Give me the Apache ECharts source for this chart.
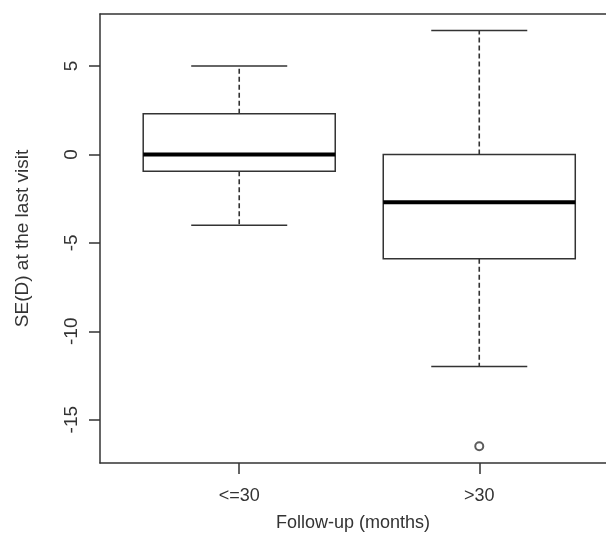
<!DOCTYPE html>
<html>
<head>
<meta charset="utf-8">
<title>SE(D) boxplot</title>
<script src="https://cdn.jsdelivr.net/npm/echarts@6/dist/echarts.min.js"></script>
<style>
html, body {
	margin: 0;
	padding: 0;
	background: #fff;
}
#chart {
	width: 606px;
	height: 533px;
}
</style>
</head>
<body>
<div id="chart"></div>
<script type="text/javascript">
// groups on the x axis
var categories = ['<=30', '>30'];
// min, Q1, median, Q3, max (whisker ends) per group
var boxStats = [
    [-4, -0.95, 0, 2.3, 5],
    [-12, -5.9, -2.7, 0, 7]
];
// outliers: [group number (1-based), value]
var outliers = [[2, -16.5]];
var yTicks = [5, 0, -5, -10, -15];

var FONT = '"Liberation Sans", Arial, sans-serif';
var INK = '#333';

var chart = echarts.init(document.getElementById('chart'), null, {renderer: 'canvas'});

var boxData = boxStats.map(function (s, i) { return [i + 1].concat(s); });

function renderBox(params, api) {
    var x = api.value(0);
    var half = api.size([0.4, 0])[0];   // box width 0.8 units
    var cap = api.size([0.2, 0])[0];    // whisker caps 0.4 units
    var cx = api.coord([x, 0])[0];
    var yMin = api.coord([x, api.value(1)])[1];
    var yQ1 = api.coord([x, api.value(2)])[1];
    var yMed = api.coord([x, api.value(3)])[1];
    var yQ3 = api.coord([x, api.value(4)])[1];
    var yMax = api.coord([x, api.value(5)])[1];
    var solid = {stroke: INK, lineWidth: 1.5, fill: null};
    var dashed = {stroke: INK, lineWidth: 1.6, lineDash: [5, 3]};
    return {
        type: 'group',
        children: [
            {type: 'line', shape: {x1: cx, y1: yQ3, x2: cx, y2: yMax}, style: dashed},
            {type: 'line', shape: {x1: cx, y1: yQ1, x2: cx, y2: yMin}, style: dashed},
            {type: 'line', shape: {x1: cx - cap, y1: yMax, x2: cx + cap, y2: yMax}, style: solid},
            {type: 'line', shape: {x1: cx - cap, y1: yMin, x2: cx + cap, y2: yMin}, style: solid},
            {type: 'rect', shape: {x: cx - half, y: yQ3, width: half * 2, height: yQ1 - yQ3},
                style: {stroke: INK, lineWidth: 1.5, fill: '#fff'}},
            {type: 'line', shape: {x1: cx - half, y1: yMed, x2: cx + half, y2: yMed},
                style: {stroke: '#000', lineWidth: 4}}
        ]
    };
}

var option = {
    animation: false,
    backgroundColor: '#fff',
    textStyle: {fontFamily: FONT},
    // the right side of the R plot box is cut off in the picture
    grid: {left: 100, top: 14, bottom: 70, right: 0, outerBoundsMode: 'none'},
    xAxis: [{
        type: 'value',
        min: 0.42,
        max: 2.528,
        name: 'Follow-up (months)',
        nameLocation: 'middle',
        nameGap: 51,
        nameTextStyle: {fontSize: 18, color: INK, fontFamily: FONT},
        splitLine: {show: false},
        axisLine: {show: true, onZero: false, lineStyle: {color: INK, width: 1.5}},
        axisTick: {show: true, length: 11, customValues: [1, 2], lineStyle: {color: INK, width: 1.5}},
        axisLabel: {
            customValues: [1, 2],
            fontSize: 18,
            color: INK,
            margin: 24,
            formatter: function (v) { return categories[Math.round(v) - 1]; }
        }
    }, {
        // top edge of the plot box
        type: 'value',
        position: 'top',
        min: 0.42,
        max: 2.528,
        splitLine: {show: false},
        axisLine: {show: true, onZero: false, lineStyle: {color: INK, width: 1.5}},
        axisTick: {show: false},
        axisLabel: {show: false}
    }],
    yAxis: {
        type: 'value',
        min: -17.45,
        max: 7.94,
        name: 'SE(D) at the last visit',
        nameLocation: 'middle',
        nameGap: 68,
        nameTextStyle: {fontSize: 19, color: INK, fontFamily: FONT},
        splitLine: {show: false},
        axisLine: {show: true, onZero: false, lineStyle: {color: INK, width: 1.5}},
        axisTick: {show: true, length: 11, customValues: yTicks, lineStyle: {color: INK, width: 1.5}},
        axisLabel: {
            customValues: yTicks,
            rotate: 90,
            fontSize: 19,
            color: INK,
            margin: 19
        }
    },
    series: [{
        type: 'custom',
        renderItem: renderBox,
        data: boxData,
        encode: {x: 0, y: [1, 2, 3, 4, 5]},
        z: 2
    }, {
        type: 'scatter',
        data: outliers,
        symbol: 'emptyCircle',
        symbolSize: 8,
        itemStyle: {color: INK, borderColor: INK, borderWidth: 1.2},
        z: 3
    }]
};

chart.setOption(option);
</script>
</body>
</html>
